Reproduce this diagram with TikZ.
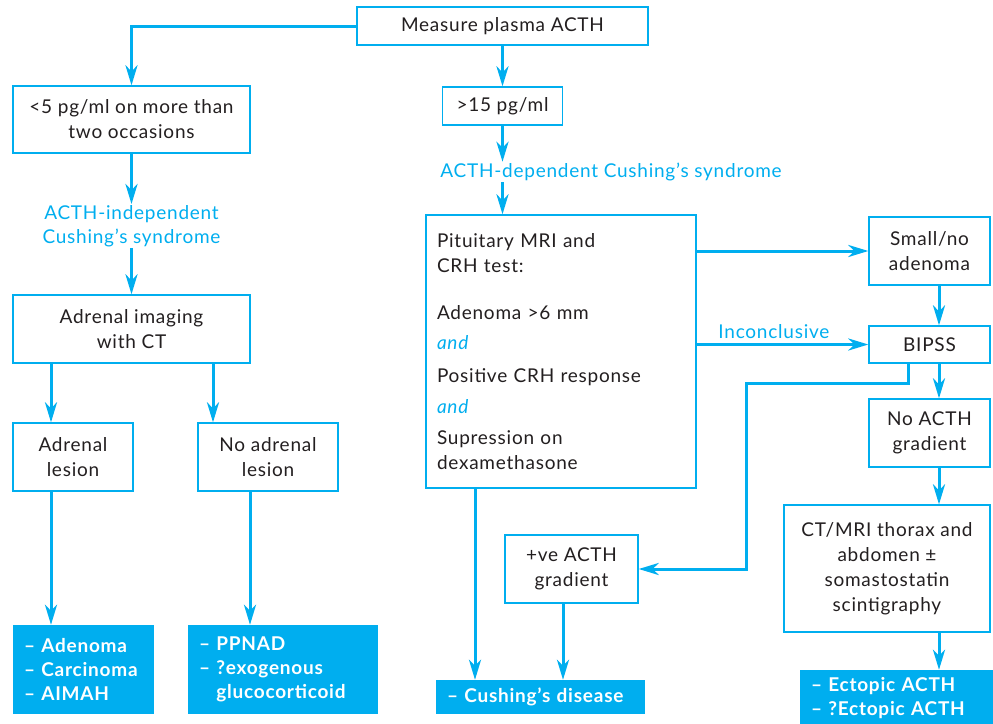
\documentclass[tikz,border=0pt]{standalone}
\usepackage{fontspec}
\setmainfont{Lato}[LetterSpace=4]
\usetikzlibrary{arrows.meta}
\definecolor{acyan}{HTML}{00AEEF}
\definecolor{ink}{HTML}{231F20}

\begin{document}
\begin{tikzpicture}[x=1pt, y=-1pt,
  box/.style={draw=acyan, line width=1.3pt, fill=white, text=ink, align=center,
              font=\fontsize{19}{25}\selectfont, inner sep=0pt},
  res/.style={fill=acyan, text=white, align=left, inner ysep=0pt, inner xsep=11pt,
              font=\fontsize{19}{24}\selectfont\bfseries},
  note/.style={text=acyan, align=center, font=\fontsize{19}{24}\selectfont, inner sep=1pt},
  arr/.style={draw=acyan, line width=3pt, -{Stealth[length=20pt,width=12pt,inset=6pt]}},
]
\useasboundingbox (0,0) rectangle (993,723);

\coordinate (xles)    at (51,0);
\coordinate (xnoup)   at (213,0);
\coordinate (xnodown) at (250,0);
\coordinate (xpit)    at (475,0);
\coordinate (xpos)    at (563,0);
\coordinate (xsplit)  at (908,0);
\coordinate (xright)  at (939,0);
\coordinate (xturn)   at (746,383);

\node[box, minimum width=291pt, minimum height=38pt] (measure) at (502.5,26) {Measure plasma ACTH};

\node[box, minimum width=237pt, minimum height=67pt] (low) at (131.5,119.5) {<5 pg/ml on more than\\two occasions};
\node[note] (indep) at (131.5,226) {ACTH-independent\\Cushing’s syndrome};
\node[box, minimum width=237pt, minimum height=68pt] (adrimg) at (131.5,329) {Adrenal imaging\\with CT};
\node[box, minimum width=120pt, minimum height=68pt] (adrles) at (73,457) {Adrenal\\lesion};
\node[box, minimum width=140pt, minimum height=68pt] (noadr) at (268,457) {No adrenal\\lesion};
\node[res, text width=119pt, minimum height=89pt] (res1) at (83.5,669.5) {– Adenoma\\– Carcinoma\\– AIMAH};
\node[res, text width=168pt, minimum height=89pt] (res2) at (283,669.5) {– PPNAD\\– ?exogenous\\\hphantom{– }glucocorticoid};

\node[box, minimum width=120pt, minimum height=38pt] (high) at (502.5,106) {>15 pg/ml};
\node[note] (dep) at (611,172) {ACTH-dependent Cushing’s syndrome};
\node[box, align=left, text width=248pt, inner xsep=11pt, minimum height=273pt] (pit) at (561,351.5)
  {Pituitary MRI and\\
   CRH test:\\[22pt]
   Adenoma >6 mm\\[5pt]
   \textcolor{acyan}{\itshape and}\\[8pt]
   Positive CRH response\\[6pt]
   \textcolor{acyan}{\itshape and}\\[6pt]
   Supression on\\
   dexamethasone};
\node[box, minimum width=133pt, minimum height=68pt] (pos) at (571.5,569) {+ve ACTH\\gradient};
\node[res, text width=187pt, minimum height=34pt] (cush) at (540.5,697) {– Cushing’s disease};

\node[box, minimum width=121pt, minimum height=68pt] (small) at (929.5,251) {Small/no\\adenoma};
\node[box, minimum width=121pt, minimum height=37pt] (bipss) at (929.5,344.5) {BIPSS};
\node[box, minimum width=121pt, minimum height=68pt] (noacth) at (929.5,433) {No ACTH\\gradient};
\node[box, minimum width=206pt, minimum height=127pt] (ct) at (887,568.5) {CT/MRI thorax and\\abdomen ±\\somastostatin\\scintigraphy};
\node[res, text width=178pt, minimum height=56pt] (ectopic) at (900,698) {– Ectopic ACTH\\– ?Ectopic ACTH};

\draw[arr] (measure.west) -| (low.north);
\draw[arr] (low.south) -- (indep.north);
\draw[arr] (indep.south) -- (adrimg.north);
\draw[arr] (adrimg.south -| xles) -- (adrles.north -| xles);
\draw[arr] (adrimg.south -| xnoup) -- (noadr.north -| xnoup);
\draw[arr] (adrles.south -| xles) -- (res1.north -| xles);
\draw[arr] (noadr.south -| xnodown) -- (res2.north -| xnodown);

\draw[arr] (measure.south) -- (high.north);
\draw[arr] (high.south) -- (high.south |- dep.north);
\draw[arr] (high.south |- dep.south) -- (high.south |- pit.north);
\draw[arr] (pit.east |- small.west) -- (small.west);
\draw[arr] (pit.east |- bipss.west) -- node[note, above=3pt, pos=0.45] (inconc) {Inconclusive} (bipss.west);
\draw[arr] (small.south -| xright) -- (bipss.north -| xright);
\draw[arr] (bipss.south -| xright) -- (noacth.north -| xright);
\draw[arr] (noacth.south -| xright) -- (ct.north -| xright);
\draw[arr] (ct.south -| xright) -- (ectopic.north -| xright);
\draw[arr] (bipss.south -| xsplit) |- (xturn) |- (pos.east);
\draw[arr] (pit.south -| xpit) -- (cush.north -| xpit);
\draw[arr] (pos.south -| xpos) -- (cush.north -| xpos);
\end{tikzpicture}
\end{document}
